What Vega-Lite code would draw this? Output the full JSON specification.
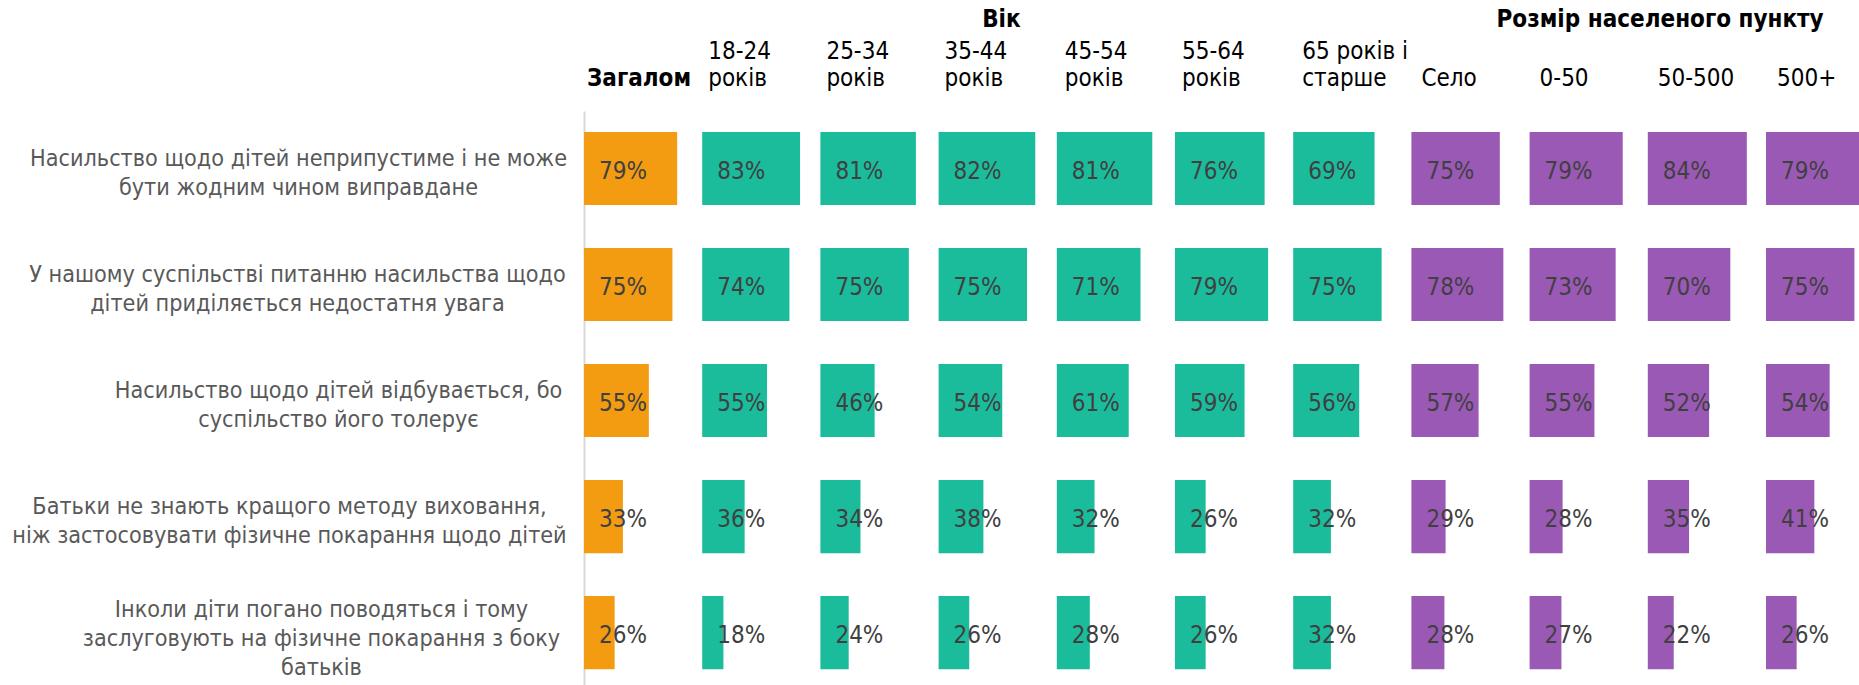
{
  "$schema": "https://vega.github.io/schema/vega-lite/v6.json",
  "padding": {"left": 11, "top": 8, "right": 0, "bottom": 0},
  "background": "white",
  "bounds": "flush",
  "spacing": 30.2,
  "data": {"values": [
    {"s": "Насильство щодо дітей неприпустиме і не може|бути жодним чином виправдане", "total": 0.79, "a18_24": 0.83, "a25_34": 0.81, "a35_44": 0.82, "a45_54": 0.81, "a55_64": 0.76, "a65": 0.69, "selo": 0.75, "m0_50": 0.79, "m50_500": 0.84, "m500": 0.79},
    {"s": "У нашому суспільстві питанню насильства щодо|дітей приділяється недостатня увага", "total": 0.75, "a18_24": 0.74, "a25_34": 0.75, "a35_44": 0.75, "a45_54": 0.71, "a55_64": 0.79, "a65": 0.75, "selo": 0.78, "m0_50": 0.73, "m50_500": 0.70, "m500": 0.75},
    {"s": "Насильство щодо дітей відбувається, бо|суспільство його толерує", "total": 0.55, "a18_24": 0.55, "a25_34": 0.46, "a35_44": 0.54, "a45_54": 0.61, "a55_64": 0.59, "a65": 0.56, "selo": 0.57, "m0_50": 0.55, "m50_500": 0.52, "m500": 0.54},
    {"s": "Батьки не знають кращого методу виховання,|ніж застосовувати фізичне покарання щодо дітей", "total": 0.33, "a18_24": 0.36, "a25_34": 0.34, "a35_44": 0.38, "a45_54": 0.32, "a55_64": 0.26, "a65": 0.32, "selo": 0.29, "m0_50": 0.28, "m50_500": 0.35, "m500": 0.41},
    {"s": "Інколи діти погано поводяться і тому|заслуговують на фізичне покарання з боку|батьків", "total": 0.26, "a18_24": 0.18, "a25_34": 0.24, "a35_44": 0.26, "a45_54": 0.28, "a55_64": 0.26, "a65": 0.32, "selo": 0.28, "m0_50": 0.27, "m50_500": 0.22, "m500": 0.26}
  ]},
  "config": {
    "view": {"stroke": null},
    "font": "DejaVu Sans Condensed",
    "title": {"anchor": "start", "frame": "group", "offset": 20, "font": "DejaVu Sans Condensed", "fontSize": 24, "fontWeight": "bold", "color": "#000000", "subtitleFont": "DejaVu Sans Condensed", "subtitleFontSize": 24, "subtitleLineHeight": 27, "subtitleColor": "#000000", "subtitlePadding": 8},
    "text": {"font": "DejaVu Sans Condensed", "fontSize": 24, "color": "#404040"}
  },
  "hconcat": [
    {
      "width": 88, "height": 574,
      "title": {"text": "Загалом", "dx": 3},
      "encoding": {"y": {"field": "s", "type": "nominal", "sort": null, "scale": {"paddingInner": 0.37, "paddingOuter": 0.159, "align": 0.57},
        "axis": {"title": null, "domain": true, "domainColor": "#d9d9d9", "domainWidth": 2, "ticks": false, "tickSize": 0, "grid": false,
          "labelExpr": "split(datum.label, '|')", "labelAlign": "center", "labelBaseline": "middle", "labelFont": "DejaVu Sans Condensed", "labelFontSize": 23.2, "labelLineHeight": 29, "labelColor": "#595959", "labelLimit": 1000, "labelOverlap": false,
          "labelOffset": {"condition": [{"test": "indexof(datum.value, 'Інколи') >= 0", "value": -23}], "value": -10},
          "labelPadding": {"condition": [
            {"test": "indexof(datum.value, 'неприпустиме') >= 0", "value": 286},
            {"test": "indexof(datum.value, 'недостатня') >= 0", "value": 287},
            {"test": "indexof(datum.value, 'толерує') >= 0", "value": 246},
            {"test": "indexof(datum.value, 'виховання') >= 0", "value": 295}
          ], "value": 263}}}},
      "layer": [
        {"mark": {"type": "bar", "color": "#F39C12"}, "encoding": {"x": {"field": "total", "type": "quantitative", "scale": {"domain": [0, 0.7464], "nice": false}, "axis": null}}},
        {"mark": {"type": "text", "align": "left", "baseline": "middle", "dx": 15, "dy": 3}, "encoding": {"x": {"datum": 0, "type": "quantitative"}, "text": {"field": "total", "type": "quantitative", "format": ".0%"}}}
      ]
    },
    {
      "width": 88, "height": 574,
      "title": {"text": "\u00a0", "subtitle": ["18-24", "років"], "dx": 6},
      "encoding": {"y": {"field": "s", "type": "nominal", "sort": null, "axis": null, "scale": {"paddingInner": 0.37, "paddingOuter": 0.159, "align": 0.57}}},
      "layer": [
        {"mark": {"type": "bar", "color": "#1ABC9C"}, "encoding": {"x": {"field": "a18_24", "type": "quantitative", "scale": {"domain": [0, 0.7464], "nice": false}, "axis": null}}},
        {"mark": {"type": "text", "align": "left", "baseline": "middle", "dx": 15, "dy": 3}, "encoding": {"x": {"datum": 0, "type": "quantitative"}, "text": {"field": "a18_24", "type": "quantitative", "format": ".0%"}}}
      ]
    },
    {
      "width": 88, "height": 574,
      "title": {"text": "\u00a0", "subtitle": ["25-34", "років"], "dx": 6},
      "encoding": {"y": {"field": "s", "type": "nominal", "sort": null, "axis": null, "scale": {"paddingInner": 0.37, "paddingOuter": 0.159, "align": 0.57}}},
      "layer": [
        {"mark": {"type": "bar", "color": "#1ABC9C"}, "encoding": {"x": {"field": "a25_34", "type": "quantitative", "scale": {"domain": [0, 0.7464], "nice": false}, "axis": null}}},
        {"mark": {"type": "text", "align": "left", "baseline": "middle", "dx": 15, "dy": 3}, "encoding": {"x": {"datum": 0, "type": "quantitative"}, "text": {"field": "a25_34", "type": "quantitative", "format": ".0%"}}}
      ]
    },
    {
      "width": 88, "height": 574,
      "title": {"text": "\u200b\u00a0\u00a0\u00a0\u00a0\u00a0Вік", "subtitle": ["35-44", "років"], "dx": 6},
      "encoding": {"y": {"field": "s", "type": "nominal", "sort": null, "axis": null, "scale": {"paddingInner": 0.37, "paddingOuter": 0.159, "align": 0.57}}},
      "layer": [
        {"mark": {"type": "bar", "color": "#1ABC9C"}, "encoding": {"x": {"field": "a35_44", "type": "quantitative", "scale": {"domain": [0, 0.7464], "nice": false}, "axis": null}}},
        {"mark": {"type": "text", "align": "left", "baseline": "middle", "dx": 15, "dy": 3}, "encoding": {"x": {"datum": 0, "type": "quantitative"}, "text": {"field": "a35_44", "type": "quantitative", "format": ".0%"}}}
      ]
    },
    {
      "width": 88, "height": 574,
      "title": {"text": "\u00a0", "subtitle": ["45-54", "років"], "dx": 8},
      "encoding": {"y": {"field": "s", "type": "nominal", "sort": null, "axis": null, "scale": {"paddingInner": 0.37, "paddingOuter": 0.159, "align": 0.57}}},
      "layer": [
        {"mark": {"type": "bar", "color": "#1ABC9C"}, "encoding": {"x": {"field": "a45_54", "type": "quantitative", "scale": {"domain": [0, 0.7464], "nice": false}, "axis": null}}},
        {"mark": {"type": "text", "align": "left", "baseline": "middle", "dx": 15, "dy": 3}, "encoding": {"x": {"datum": 0, "type": "quantitative"}, "text": {"field": "a45_54", "type": "quantitative", "format": ".0%"}}}
      ]
    },
    {
      "width": 88, "height": 574,
      "title": {"text": "\u00a0", "subtitle": ["55-64", "років"], "dx": 7},
      "encoding": {"y": {"field": "s", "type": "nominal", "sort": null, "axis": null, "scale": {"paddingInner": 0.37, "paddingOuter": 0.159, "align": 0.57}}},
      "layer": [
        {"mark": {"type": "bar", "color": "#1ABC9C"}, "encoding": {"x": {"field": "a55_64", "type": "quantitative", "scale": {"domain": [0, 0.7464], "nice": false}, "axis": null}}},
        {"mark": {"type": "text", "align": "left", "baseline": "middle", "dx": 15, "dy": 3}, "encoding": {"x": {"datum": 0, "type": "quantitative"}, "text": {"field": "a55_64", "type": "quantitative", "format": ".0%"}}}
      ]
    },
    {
      "width": 88, "height": 574,
      "title": {"text": "\u00a0", "subtitle": ["65 років і", "старше"], "dx": 9},
      "encoding": {"y": {"field": "s", "type": "nominal", "sort": null, "axis": null, "scale": {"paddingInner": 0.37, "paddingOuter": 0.159, "align": 0.57}}},
      "layer": [
        {"mark": {"type": "bar", "color": "#1ABC9C"}, "encoding": {"x": {"field": "a65", "type": "quantitative", "scale": {"domain": [0, 0.7464], "nice": false}, "axis": null}}},
        {"mark": {"type": "text", "align": "left", "baseline": "middle", "dx": 15, "dy": 3}, "encoding": {"x": {"datum": 0, "type": "quantitative"}, "text": {"field": "a65", "type": "quantitative", "format": ".0%"}}}
      ]
    },
    {
      "width": 88, "height": 574,
      "title": {"text": "\u200b\u00a0\u00a0\u00a0\u00a0\u00a0\u00a0\u00a0\u00a0\u00a0\u00a0Розмір населеного пункту", "subtitle": ["\u00a0", "Село"], "dx": 10},
      "encoding": {"y": {"field": "s", "type": "nominal", "sort": null, "axis": null, "scale": {"paddingInner": 0.37, "paddingOuter": 0.159, "align": 0.57}}},
      "layer": [
        {"mark": {"type": "bar", "color": "#9B59B6"}, "encoding": {"x": {"field": "selo", "type": "quantitative", "scale": {"domain": [0, 0.7464], "nice": false}, "axis": null}}},
        {"mark": {"type": "text", "align": "left", "baseline": "middle", "dx": 15, "dy": 3}, "encoding": {"x": {"datum": 0, "type": "quantitative"}, "text": {"field": "selo", "type": "quantitative", "format": ".0%"}}}
      ]
    },
    {
      "width": 88, "height": 574,
      "title": {"text": "\u00a0", "subtitle": ["\u00a0", "0-50"], "dx": 10},
      "encoding": {"y": {"field": "s", "type": "nominal", "sort": null, "axis": null, "scale": {"paddingInner": 0.37, "paddingOuter": 0.159, "align": 0.57}}},
      "layer": [
        {"mark": {"type": "bar", "color": "#9B59B6"}, "encoding": {"x": {"field": "m0_50", "type": "quantitative", "scale": {"domain": [0, 0.7464], "nice": false}, "axis": null}}},
        {"mark": {"type": "text", "align": "left", "baseline": "middle", "dx": 15, "dy": 3}, "encoding": {"x": {"datum": 0, "type": "quantitative"}, "text": {"field": "m0_50", "type": "quantitative", "format": ".0%"}}}
      ]
    },
    {
      "width": 88, "height": 574,
      "title": {"text": "\u00a0", "subtitle": ["\u00a0", "50-500"], "dx": 10},
      "encoding": {"y": {"field": "s", "type": "nominal", "sort": null, "axis": null, "scale": {"paddingInner": 0.37, "paddingOuter": 0.159, "align": 0.57}}},
      "layer": [
        {"mark": {"type": "bar", "color": "#9B59B6"}, "encoding": {"x": {"field": "m50_500", "type": "quantitative", "scale": {"domain": [0, 0.7464], "nice": false}, "axis": null}}},
        {"mark": {"type": "text", "align": "left", "baseline": "middle", "dx": 15, "dy": 3}, "encoding": {"x": {"datum": 0, "type": "quantitative"}, "text": {"field": "m50_500", "type": "quantitative", "format": ".0%"}}}
      ]
    },
    {
      "width": 88, "height": 574,
      "title": {"text": "\u00a0", "subtitle": ["\u00a0", "500+"], "dx": 11},
      "encoding": {"y": {"field": "s", "type": "nominal", "sort": null, "axis": null, "scale": {"paddingInner": 0.37, "paddingOuter": 0.159, "align": 0.57}}},
      "layer": [
        {"mark": {"type": "bar", "color": "#9B59B6"}, "encoding": {"x": {"field": "m500", "type": "quantitative", "scale": {"domain": [0, 0.7464], "nice": false}, "axis": null}}},
        {"mark": {"type": "text", "align": "left", "baseline": "middle", "dx": 15, "dy": 3}, "encoding": {"x": {"datum": 0, "type": "quantitative"}, "text": {"field": "m500", "type": "quantitative", "format": ".0%"}}}
      ]
    }
  ]
}
